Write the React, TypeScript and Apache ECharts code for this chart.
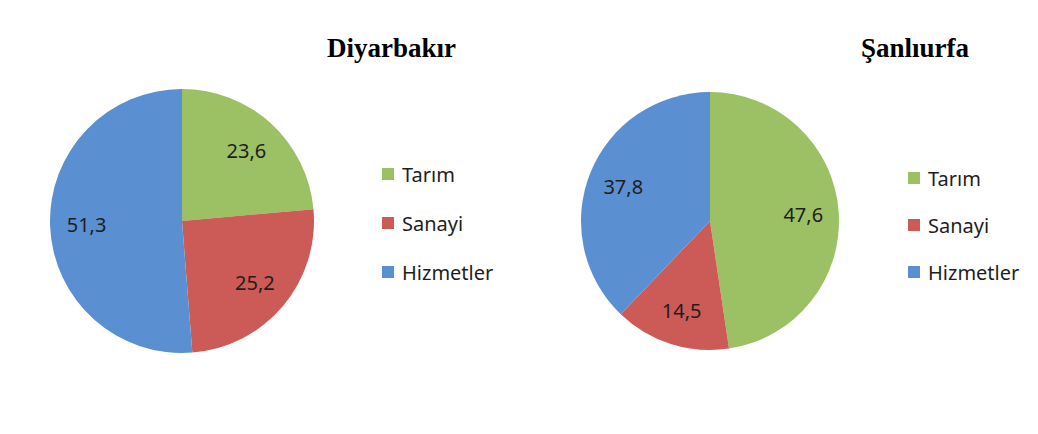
import React, { useEffect, useRef } from "react";
import * as echarts from "echarts";

const categories = ["Tarım", "Sanayi", "Hizmetler"];
const diyarbakirValues = [23.6, 25.2, 51.3];
const sanliurfaValues = [47.6, 14.5, 37.8];
const titles = ["Diyarbakır", "Şanlıurfa"];
const colors = ["#9cc064", "#cc5a57", "#5a8fd2"];

const fmt = (v: number) => v.toFixed(1).replace(".", ",");

export default function App() {
  const ref = useRef<HTMLDivElement>(null);
  useEffect(() => {
    document.body.style.margin = "0";
    if (!ref.current) return;
    const chart = echarts.init(ref.current, null, { renderer: "svg" });
    const mk = (vals: number[]) =>
      vals.map((v, i) => ({ name: categories[i], value: v, itemStyle: { color: colors[i] } }));
    const mkLabel = (vals: number[]) =>
      vals.map((v, i) => ({ name: categories[i], value: v }));
    const labelFont = { fontFamily: "Noto Sans", fontSize: 20, color: "#1e1e1e" };
    const pie = (vals: number[], center: number[], r: number) => [
      {
        type: "pie",
        center,
        radius: [0, r],
        startAngle: 90,
        clockwise: true,
        label: { show: false },
        labelLine: { show: false },
        data: mk(vals),
        silent: true,
      },
      {
        type: "pie",
        center,
        radius: [Math.round(r * 0.4), r],
        startAngle: 90,
        clockwise: true,
        silent: true,
        itemStyle: { color: "rgba(0,0,0,0)" },
        label: {
          show: true,
          position: "inside",
          formatter: (p: any) => fmt(p.value),
          ...labelFont,
        },
        labelLine: { show: false },
        data: mkLabel(vals),
      },
    ];
    const legend = (left: number, top: number, gap: number) => ({
      orient: "vertical",
      left,
      top,
      padding: 0,
      icon: "rect",
      itemWidth: 12,
      itemHeight: 12,
      itemGap: gap,
      data: categories,
      selectedMode: false,
      textStyle: { ...labelFont, padding: [0, 0, 0, 3] },
    });
    const title = (text: string, left: number) => ({
      text,
      left,
      top: 34,
      padding: 0,
      textStyle: {
        fontFamily: "Liberation Serif",
        fontWeight: "bold",
        fontSize: 27,
        color: "#000",
      },
    });
    chart.setOption({
      animation: false,
      backgroundColor: "#ffffff",
      title: [title(titles[0], 327), title(titles[1], 861)],
      legend: [legend(382, 164, 29), legend(908, 168, 27)],
      series: [
        ...pie(diyarbakirValues, [182, 221], 132),
        ...pie(sanliurfaValues, [710, 221], 129),
      ],
    });
    return () => chart.dispose();
  }, []);
  return <div ref={ref} style={{ width: 1038, height: 434 }} />;
}
